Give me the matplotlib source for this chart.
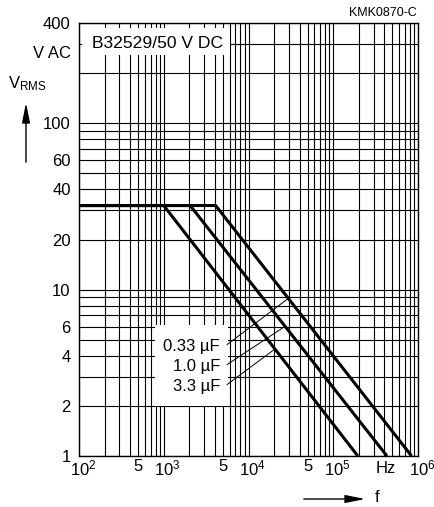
import numpy as np
import matplotlib
matplotlib.use("Agg")
import matplotlib.pyplot as plt
from matplotlib.patches import Rectangle, FancyArrowPatch
from matplotlib.transforms import ScaledTranslation

plt.rcParams['font.family'] = ['Liberation Sans', 'DejaVu Sans']
plt.rcParams['font.size'] = 12

# curves: flat level, knee frequency, frequency where V drops to 1 V
cap_labels = ['0.33 µF', '1.0 µF', '3.3 µF']
f_033 = [1e2, 4.1e3, 8.4e5]
v_033 = [32, 32, 1]
f_10 = [1e2, 2.05e3, 4.3e5]
v_10 = [32, 32, 1]
f_33 = [1e2, 1.0e3, 1.95e5]
v_33 = [32, 32, 1]

# leader lines: frequency where each leader meets its curve
leader_f = [2.95e4, 2.7e4, 2.05e4]
label_v = [4.54, 3.44, 2.61]

x_grid = [m * 10**k for k in range(2, 6) for m in range(1, 10)] + [1e6]
x_labels = {1e2: r'$\mathregular{10^2}$', 5e2: '5', 1e3: r'$\mathregular{10^3}$',
            5e3: '5', 1e4: r'$\mathregular{10^4}$', 5e4: '5',
            1e5: r'$\mathregular{10^5}$', 1e6: r'$\mathregular{10^6}$'}
y_grid = [m * 10**k for k in range(0, 2) for m in range(1, 10)] + [100, 200, 300, 400]
y_labels = [1, 2, 4, 6, 10, 20, 40, 60, 100, 400]

fig = plt.figure(figsize=(4.35, 5.07), dpi=100)
ax = fig.add_axes([79/435, 1 - 456/507, 339/435, 433/507])
ax.set_xscale('log')
ax.set_yscale('log')
ax.set_xlim(1e2, 1e6)
ax.set_ylim(1, 400)

ax.set_xticks(x_grid)
ax.set_xticklabels([x_labels.get(v, '') for v in x_grid])
ax.set_yticks(y_grid)
ax.set_yticklabels([str(v) if v in y_labels else '' for v in y_grid])
ax.minorticks_off()
ax.tick_params(axis='both', length=0, labelsize=12)
ax.tick_params(axis='x', pad=2)
ax.tick_params(axis='y', pad=6)
ax.grid(True, color='black', lw=0.8)
for s in ax.spines.values():
    s.set_linewidth(1.0)

# decade labels: centre the "10" on the tick, superscript hangs to the right
shift = ScaledTranslation(4/100, 0, fig.dpi_scale_trans)
for v, lab in zip(x_grid, ax.get_xticklabels()):
    if '10^' in x_labels.get(v, ''):
        lab.set_transform(lab.get_transform() + shift)

curves = [(f_033, v_033), (f_10, v_10), (f_33, v_33)]
for f, v in curves:
    ax.plot(f, v, color='black', lw=2.2, solid_capstyle='butt', zorder=3)

# white boxes over the grid
ax.add_patch(Rectangle((108, 257), 6.05e3 - 108, 373 - 257, facecolor='white',
                       edgecolor='none', zorder=2.5))
ax.text(141, 300, 'B32529/50 V DC', ha='left', va='center', fontsize=12.6, zorder=4)

ax.add_patch(Rectangle((790, 2.0), 5.7e3 - 790, 6.13 - 2.0, facecolor='white',
                       edgecolor='none', zorder=2.5))
for lab, lv, lf, (f, v) in zip(cap_labels, label_v, leader_f, curves):
    ax.text(4.6e3, lv, lab, ha='right', va='center', fontsize=12, zorder=4)
    cv = 10**np.interp(np.log10(lf), np.log10(f), np.log10(v))
    ax.plot([5.6e3, lf], [lv * 1.03, cv], color='black', lw=0.7, zorder=3)

ax.text(4.2e5, 0.79, 'Hz', ha='center', va='baseline', fontsize=12, clip_on=False)

fig.text(417/435, 1 - 13/507, 'KMK0870-C', ha='right', va='center', fontsize=9)
fig.text(71/435, 1 - 53/507, 'V AC', ha='right', va='center', fontsize=12)
fig.text(8/435, 1 - 84/507, r'$\mathregular{V_{RMS}}$', ha='left', va='center', fontsize=12)
fig.text(377/435, 1 - 498/507, 'f', ha='center', va='center', fontsize=12)

fig.add_artist(FancyArrowPatch(
    (26/435, 1 - 165/507), (26/435, 1 - 100/507), transform=fig.transFigure,
    arrowstyle='-|>,head_length=0.6,head_width=0.12', mutation_scale=20,
    color='black', lw=1.0))
fig.add_artist(FancyArrowPatch(
    (301/435, 1 - 499/507), (368/435, 1 - 499/507), transform=fig.transFigure,
    arrowstyle='-|>,head_length=0.6,head_width=0.12', mutation_scale=20,
    color='black', lw=1.0))

fig.savefig('out.png', dpi=100)
